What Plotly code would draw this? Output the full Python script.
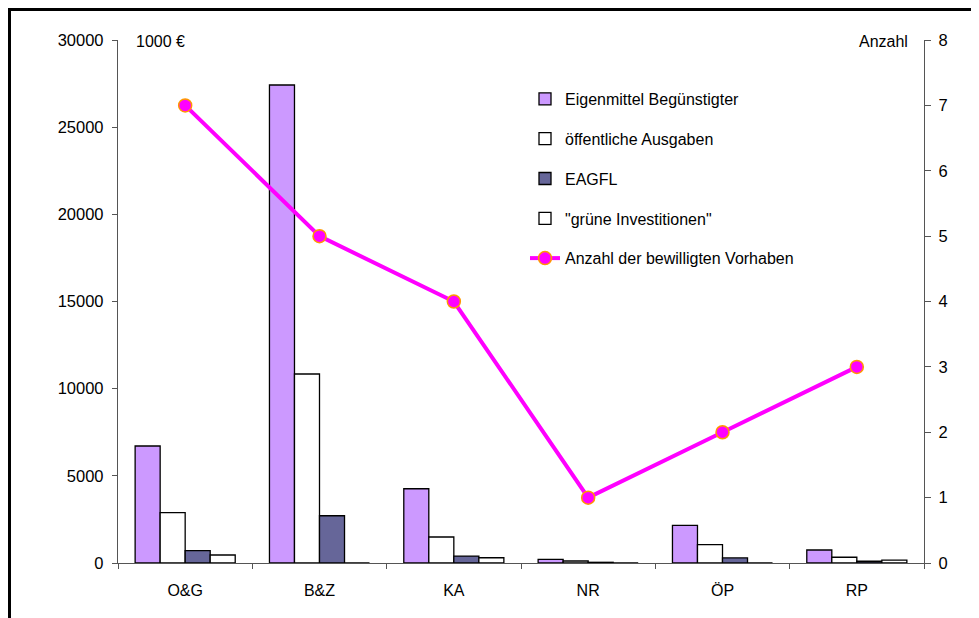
import plotly.graph_objects as go

categories = ["O&G", "B&Z", "KA", "NR", "ÖP", "RP"]
eigenmittel = [6710, 27420, 4260, 210, 2160, 745]
oeffentliche = [2885, 10840, 1490, 115, 1050, 330]
eagfl = [705, 2710, 400, 40, 290, 100]
gruene = [460, 0, 300, 0, 0, 170]
anzahl = [7, 5, 4, 1, 2, 3]

FONT = "Arial, 'Liberation Sans', sans-serif"
OFF = 8  # page body margin
W, H = 979 - OFF, 618 - OFF
L, R, T, B = 118 - OFF, 979 - 924, 40 - OFF, 618 - 563
pw, ph = W - L - R, H - T - B

def px_x(p):
    # screenshot pixel -> paper coordinate
    return (p - OFF - L) / pw

def px_y(p):
    return (H - B - (p - OFF)) / ph

fig = go.Figure()
bar_line = dict(color="#000000", width=1.3)
fig.add_trace(go.Bar(x=categories, y=eigenmittel, name="Eigenmittel Begünstigter",
                     marker=dict(color="#CC99FF", line=bar_line), legendgroup="a"))
fig.add_trace(go.Bar(x=categories, y=oeffentliche, name="öffentliche Ausgaben",
                     marker=dict(color="#FFFFFF", line=bar_line), legendgroup="b"))
fig.add_trace(go.Bar(x=categories, y=eagfl, name="EAGFL",
                     marker=dict(color="#666699", line=bar_line), legendgroup="c"))
fig.add_trace(go.Bar(x=categories, y=gruene, name="\"grüne Investitionen\"",
                     marker=dict(color="#FFFFFF", line=bar_line), legendgroup="d"))
fig.add_trace(go.Scatter(x=categories, y=anzahl, name="Anzahl der bewilligten Vorhaben",
                         yaxis="y2", mode="lines+markers",
                         line=dict(color="#FF00FF", width=4),
                         marker=dict(color="#FF00FF", size=13,
                                     line=dict(color="#FF9900", width=1.5)),
                         legendgroup="e"))

axis_col = "#555555"
fig.update_layout(
    width=W, height=H,
    margin=dict(l=L, r=R, t=T, b=B, autoexpand=False),
    paper_bgcolor="white", plot_bgcolor="white",
    font=dict(family=FONT, size=16, color="#000000"),
    barmode="group", bargap=0.255, bargroupgap=0,
    showlegend=True,
    legend=dict(x=px_x(525), y=px_y(82), xanchor="left", yanchor="top",
                bgcolor="rgba(0,0,0,0)", borderwidth=0,
                font=dict(family=FONT, size=16), tracegroupgap=16,
                traceorder="grouped", itemwidth=30),
    xaxis=dict(type="category", showline=True, linecolor=axis_col, linewidth=1.3,
               ticks="outside", ticklen=5, tickcolor=axis_col, tickson="boundaries",
               showgrid=False, zeroline=False, ticklabelstandoff=13,
               tickfont=dict(size=16)),
    yaxis=dict(range=[0, 30000], dtick=5000, showline=True, linecolor=axis_col,
               linewidth=1.3, ticks="outside", ticklen=5, tickcolor=axis_col,
               showgrid=False, zeroline=False, tickformat="d", ticklabelstandoff=5,
               tickfont=dict(size=16.5)),
    yaxis2=dict(range=[0, 8], dtick=1, overlaying="y", side="right", showline=True,
                linecolor=axis_col, linewidth=1.3, ticks="outside", ticklen=6,
                tickcolor=axis_col, showgrid=False, zeroline=False, ticklabelstandoff=4,
                tickfont=dict(size=16.5)),
    annotations=[
        dict(text="1000 €", xref="paper", yref="paper", x=px_x(134), y=px_y(42),
             xanchor="left", yanchor="middle", showarrow=False, font=dict(size=16)),
        dict(text="Anzahl", xref="paper", yref="paper", x=px_x(910), y=px_y(42),
             xanchor="right", yanchor="middle", showarrow=False, font=dict(size=16)),
    ],
    shapes=[
        dict(type="line", xref="paper", yref="paper", x0=px_x(8), x1=px_x(985),
             y0=px_y(9.5), y1=px_y(9.5), line=dict(color="#000000", width=3)),
        dict(type="line", xref="paper", yref="paper", x0=px_x(9.5), x1=px_x(9.5),
             y0=px_y(8), y1=px_y(625), line=dict(color="#000000", width=3)),
    ],
)

fig.write_html("out.html")
